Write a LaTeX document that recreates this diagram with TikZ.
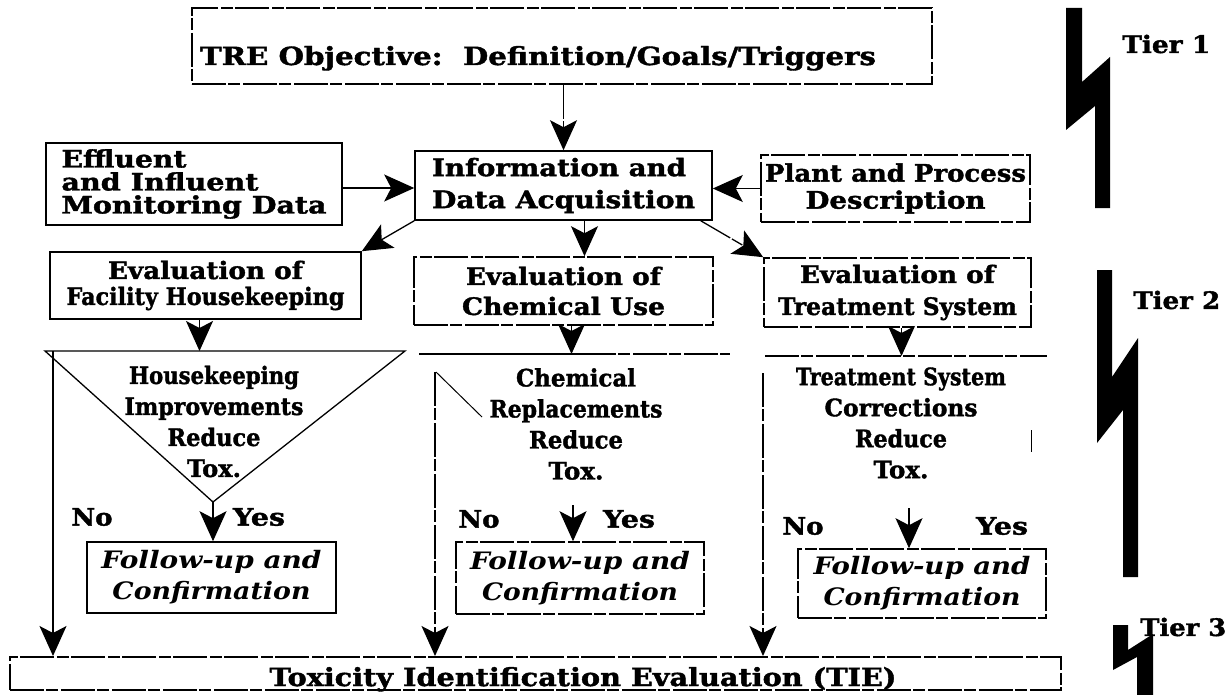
\documentclass[tikz,border=0pt]{standalone}
\usepackage{graphicx}
\usepackage{fontspec}
\setmainfont{DejaVu Serif}[BoldFeatures={FakeBold=1.5}]
\usetikzlibrary{arrows.meta}
% set a line of text to a given width, keeping its height
\newcommand\fitw[2]{\resizebox{#1pt}{\height}{#2}}
\newcommand\fsz[2]{\fontsize{#1}{#2}\selectfont}

\begin{document}
\begin{tikzpicture}[x=1pt,y=-1pt,
  box/.style={draw, line width=1.6pt, inner sep=0pt, rectangle, align=center},
  faded/.style={dash pattern=on 34pt off 2pt on 12pt off 3pt},
  arr/.style={line width=1.3pt, -{Stealth[length=30pt,width=27pt,inset=7pt]}},
  lbl/.style={inner sep=0pt, align=center, font=\bfseries\fsz{24}{31}},
  fu/.style={box, font=\bfseries\itshape\fsz{24}{31}},
]
\fill[white] (0,0) rectangle (1230,695);
\useasboundingbox (0,0) rectangle (1230,695);

% ---- objective ----
\node[box, faded, minimum width=740, minimum height=76] (tre) at (562,46) {};
\node[lbl, font=\bfseries\fsz{25}{28}, anchor=base] (tretext) at (538,65)
  {\fitw{676}{TRE Objective:\ \ Definition/Goals/Triggers}};

% ---- information row ----
\node[box, align=left, minimum width=296, minimum height=82, font=\bfseries\fsz{24}{23}] (eff) at (194,184)
  {\fitw{125}{Effluent}\\\fitw{197}{and Influent}\\\fitw{265}{Monitoring Data}};
\node[box, align=left, minimum width=297, minimum height=69, font=\bfseries\fsz{24}{32}] (info) at (563.5,185.5)
  {\fitw{254}{Information and}\\\fitw{263}{Data Acquisition}};
\node[box, faded, minimum width=269, minimum height=67, font=\bfseries\fsz{24}{27}] (plant) at (895.5,188.5)
  {\fitw{261}{Plant and Process}\\\fitw{180}{Description}};

% ---- evaluations ----
\node[box, minimum width=311, minimum height=67, font=\bfseries\fsz{24}{26}] (fac) at (205.5,285.5)
  {\fitw{195}{Evaluation of}\\\fitw{278}{Facility Housekeeping}};
\node[box, faded, minimum width=299, minimum height=68, font=\bfseries\fsz{24}{30}] (chem) at (563.5,291)
  {\fitw{195}{Evaluation of}\\\fitw{203}{Chemical Use}};
\node[box, faded, minimum width=267, minimum height=69, font=\bfseries\fsz{24}{32}] (treat) at (897.5,292.5)
  {\fitw{195}{Evaluation of}\\\fitw{239}{Treatment System}};

% ---- decisions ----
\coordinate (d1l) at (45,351);
\coordinate (d1r) at (405,351);
\coordinate (d1b) at (213,502);
\draw[line width=1.3pt] (d1l) -- (d1r) -- (d1b) -- cycle;
\node[lbl] (d1) at (214,421.5)
  {\fitw{170}{Housekeeping}\\\fitw{179}{Improvements}\\\fitw{93}{Reduce}\\\fitw{54}{Tox.}};

\coordinate (d2l) at (419,354);
\coordinate (d2m) at (582,354);
\coordinate (d2r) at (730,354);
\draw[line width=1.3pt] (d2l) -- (d2m);
\draw[line width=1.2pt, faded] (d2m) -- (d2r);
\draw[line width=1pt] (436,372) -- (482,417);
\node[lbl] (d2) at (576,424)
  {\fitw{120}{Chemical}\\\fitw{173}{Replacements}\\\fitw{94}{Reduce}\\\fitw{55}{Tox.}};

\coordinate (d3l) at (765,356);
\coordinate (d3r) at (1047,356);
\draw[line width=1.2pt, faded] (d3l) -- (d3r);
\draw[line width=1pt] (1031,430) -- (1031,452);
\node[lbl] (d3) at (901,423)
  {\fitw{210}{Treatment System}\\\fitw{153}{Corrections}\\\fitw{92}{Reduce}\\\fitw{55}{Tox.}};

% ---- follow-up ----
\node[fu, minimum width=249, minimum height=71] (fu1) at (211.5,577.5)
  {\fitw{220}{Follow-up and}\\\fitw{198}{Confirmation}};
\node[fu, faded, minimum width=248, minimum height=72] (fu2) at (580,578)
  {\fitw{220}{Follow-up and}\\\fitw{196}{Confirmation}};
\node[fu, faded, minimum width=248, minimum height=69] (fu3) at (922,583.5)
  {\fitw{217}{Follow-up and}\\\fitw{197}{Confirmation}};

% ---- yes / no ----
\node[lbl] (no1) at (92,517) {\fitw{41}{No}};
\node[lbl] (yes1) at (259,517) {\fitw{52}{Yes}};
\node[lbl] (no2) at (479,519) {\fitw{41}{No}};
\node[lbl] (yes2) at (629,519) {\fitw{52}{Yes}};
\node[lbl] (no3) at (803,526) {\fitw{41}{No}};
\node[lbl] (yes3) at (1002,526) {\fitw{52}{Yes}};

% ---- TIE ----
\node[box, faded, anchor=north west, minimum width=1051, minimum height=33] (tie) at (9,656) {};
\node[lbl, font=\bfseries\fsz{25}{28}, anchor=base] (tietext) at (583,686)
  {\fitw{627}{Toxicity Identification Evaluation (TIE)}};

% ---- connectors ----
\draw[arr, faded] (tre.south -| info.north) -- (info.north);
\draw[arr] ([yshift=-4pt]eff.east) -- ([yshift=-4pt]eff.east -| info.west);
\draw[arr] (plant.west) -- (plant.west -| info.east);
\draw[arr] (info.south west) -- (fac.north east);
\draw[arr] ([xshift=21pt]info.south) -- ([xshift=21pt]info.south |- chem.north);
\draw[arr, faded] ([xshift=-12pt]info.south east) -- (treat.north west);
\draw[arr] ([xshift=-6pt]fac.south) -- ([xshift=-6pt]fac.south |- d1l);
\draw[arr] ([xshift=8pt]chem.south) -- ([xshift=8pt]chem.south |- d2l);
\draw[arr] ([xshift=4pt]treat.south) -- ([xshift=4pt]treat.south |- d3l);

\coordinate (d2y) at (573,505);
\coordinate (d3y) at (909,508);
\draw[arr] (d1b) -- (d1b |- fu1.north);
\draw[arr, faded] (d2y) -- (d2y |- fu2.north);
\draw[arr, faded] (d3y) -- (d3y |- fu3.north);

\coordinate (d1n) at (53,351);
\coordinate (d2n) at (435,372);
\coordinate (d3n) at (763,373);
\draw[arr] (d1n) -- (d1n |- tie.north);
\draw[arr, faded] (d2n) -- (d2n |- tie.north);
\draw[arr, faded] (d3n) -- (d3n |- tie.north);

% ---- tier markers ----
\fill (1066,8) -- (1082,8) -- (1082,82) -- (1110,57) -- (1110,208) -- (1095,208) -- (1095,106) -- (1066,130) -- cycle;
\fill (1097,270) -- (1112,270) -- (1112,377) -- (1138,338) -- (1138,577) -- (1123,577) -- (1123,410) -- (1097,443) -- cycle;
\fill (1113,625) -- (1128,625) -- (1128,650) -- (1153,634) -- (1153,695) -- (1137,695) -- (1137,657) -- (1113,670) -- cycle;
\node[lbl, anchor=west] (tier1) at (1122,44) {\fitw{88}{Tier 1}};
\node[lbl, anchor=west] (tier2) at (1133,300) {\fitw{87}{Tier 2}};
\node[lbl, anchor=west] (tier3) at (1140,627) {\fitw{86}{Tier 3}};
\end{tikzpicture}
\end{document}
